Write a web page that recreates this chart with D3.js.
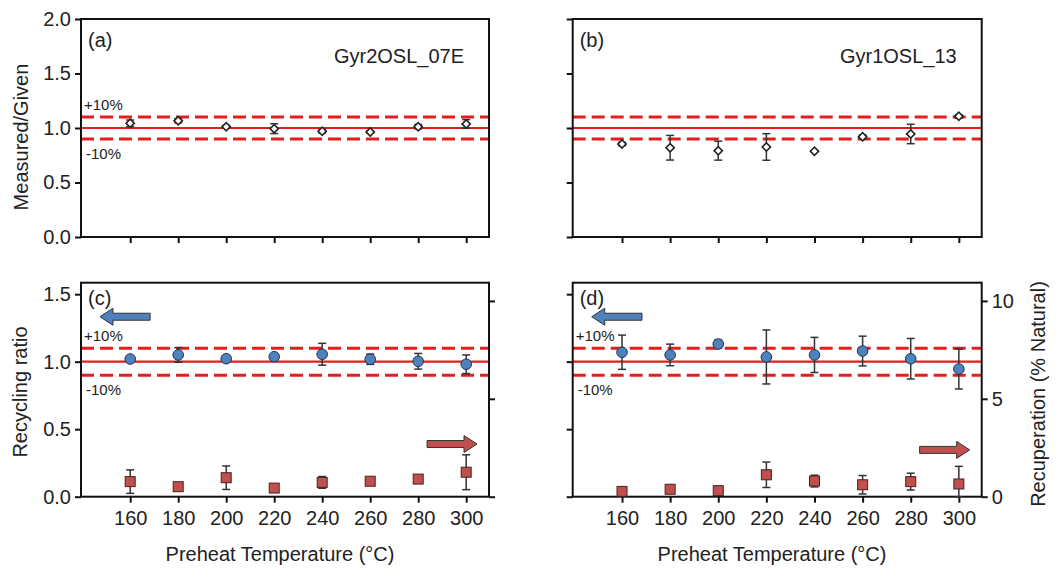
<!DOCTYPE html>
<html>
<head>
<meta charset="utf-8">
<script src="https://cdn.jsdelivr.net/npm/d3@7"></script>
<style>
  body { margin: 0; background: #fff; }
  text { font-family: "Liberation Sans", Arial, sans-serif; fill: #222; }
</style>
</head>
<body>
<div id="chart"></div>
<script>
// preheat temperatures (x categories)
const temps = [160, 180, 200, 220, 240, 260, 280, 300];

// (a) Gyr2OSL_07E measured/given
const ratioA    = [1.043, 1.067, 1.012, 0.994, 0.970, 0.963, 1.012, 1.037];
const ratioAErr = [0.030, 0.020, 0.012, 0.045, 0.015, 0.010, 0.020, 0.040];
// (b) Gyr1OSL_13 measured/given
const ratioB    = [0.853, 0.819, 0.792, 0.826, 0.786, 0.920, 0.945, 1.107];
const ratioBErr = [0.015, 0.113, 0.087, 0.122, 0.000, 0.015, 0.089, 0.015];

// (c) recycling ratio (left) and recuperation % (right)
const recycleC    = [1.020, 1.050, 1.022, 1.037, 1.055, 1.018, 1.003, 0.981];
const recycleCErr = [0.000, 0.054, 0.020, 0.000, 0.081, 0.038, 0.058, 0.069];
const recupC      = [0.77, 0.51, 0.97, 0.44, 0.73, 0.79, 0.90, 1.25];
const recupCErr   = [0.60, 0.12, 0.60, 0.00, 0.30, 0.00, 0.00, 0.89];

// (d)
const recycleD    = [1.070, 1.050, 1.131, 1.035, 1.050, 1.079, 1.022, 0.946];
const recycleDErr = [0.127, 0.080, 0.030, 0.200, 0.130, 0.110, 0.150, 0.148];
const recupD      = [0.27, 0.38, 0.31, 1.12, 0.80, 0.61, 0.77, 0.65];
const recupDErr   = [0.00, 0.12, 0.12, 0.65, 0.30, 0.47, 0.43, 0.90];

// tick labels
const ticksTop    = [0, 0.5, 1.0, 1.5, 2.0];
const ticksBottom = [0, 0.5, 1.0, 1.5];
const ticksRight  = [0, 5, 10];

const svg = d3.select('#chart').append('svg')
    .attr('width', 1060)
    .attr('height', 568);

const red = '#e41e1e', blue = '#4f81bd', brick = '#c0504d';
const xDomain = [139.5, 309.5];
const fs = 20;

function drawPanel(p) {
    const x = d3.scaleLinear().domain(xDomain).range([p.left, p.right]);
    const y = d3.scaleLinear().domain(p.yDomain).range([p.bottom, p.top]);
    const g = svg.append('g');

    // reference lines 1.0 and +-10%
    g.append('line')
        .attr('x1', p.left).attr('x2', p.right)
        .attr('y1', y(1)).attr('y2', y(1))
        .attr('stroke', red).attr('stroke-width', 2.2);
    [1.1, 0.9].forEach(v => {
        g.append('line')
            .attr('x1', p.left).attr('x2', p.right)
            .attr('y1', y(v)).attr('y2', y(v))
            .attr('stroke', red).attr('stroke-width', 3)
            .attr('stroke-dasharray', '13,6');
    });

    // frame
    g.append('rect')
        .attr('x', p.left).attr('y', p.top)
        .attr('width', p.right - p.left).attr('height', p.bottom - p.top)
        .attr('fill', 'none').attr('stroke', '#111').attr('stroke-width', 2);

    // left axis
    const yAxis = d3.axisLeft(y).tickValues(p.yTicks).tickSize(6).tickPadding(4)
        .tickFormat(p.yLabels ? d3.format('.1f') : '');
    const yAxisG = g.append('g').attr('transform', `translate(${p.left},0)`).call(yAxis);

    // bottom axis
    const xAxis = d3.axisBottom(x).tickValues(temps).tickSize(6).tickPadding(8)
        .tickFormat(p.xLabels ? d3.format('d') : '');
    const xAxisG = g.append('g').attr('transform', `translate(0,${p.bottom})`).call(xAxis);

    [yAxisG, xAxisG].forEach(a => {
        a.select('.domain').remove();
        a.selectAll('line').attr('stroke', '#111').attr('stroke-width', 2);
        a.selectAll('text').style('font-size', fs + 'px')
            .style('font-family', '"Liberation Sans", Arial, sans-serif').attr('fill', '#222');
    });
    xAxisG.selectAll('text').attr('dy', '0.73em');

    let y2 = null;
    if (p.y2Domain) {
        y2 = d3.scaleLinear().domain(p.y2Domain).range([p.bottom, p.top]);
        const rAxis = d3.axisRight(y2).tickValues(ticksRight).tickSize(6).tickPadding(4)
            .tickFormat(p.y2Labels ? d3.format('d') : '');
        const rG = g.append('g').attr('transform', `translate(${p.right},0)`).call(rAxis);
        rG.select('.domain').remove();
        rG.selectAll('line').attr('stroke', '#111').attr('stroke-width', 2);
        rG.selectAll('text').style('font-size', fs + 'px')
            .style('font-family', '"Liberation Sans", Arial, sans-serif').attr('fill', '#222');
    }

    // +-10% labels (not shown in panel b)
    if (p.pctLabels) {
        g.append('text').attr('x', p.left + 3).attr('y', y(1.1) - 7)
            .style('font-size', '15px').text('+10%');
        g.append('text').attr('x', p.left + 5).attr('y', y(0.9) + 20)
            .style('font-size', '15px').text('-10%');
    }

    // panel letter and sample name
    g.append('text').attr('x', p.left + 7).attr('y', p.top + p.letterDy)
        .style('font-size', fs + 'px').text(p.letter);
    if (p.name) {
        g.append('text').attr('x', p.right - 25).attr('y', p.top + 44)
            .attr('text-anchor', 'end').style('font-size', fs + 'px').text(p.name);
    }

    // error bars helper
    function errBars(vals, errs, scale) {
        temps.forEach((t, i) => {
            if (!errs[i]) return;
            const cx = x(t), y1 = scale(Math.max(0, vals[i] - errs[i])), y2v = scale(vals[i] + errs[i]);
            const eg = g.append('g').attr('stroke', '#333').attr('stroke-width', 1.5);
            eg.append('line').attr('x1', cx).attr('x2', cx).attr('y1', y1).attr('y2', y2v);
            eg.append('line').attr('x1', cx - 4).attr('x2', cx + 4).attr('y1', y1).attr('y2', y1);
            eg.append('line').attr('x1', cx - 4).attr('x2', cx + 4).attr('y1', y2v).attr('y2', y2v);
        });
    }

    if (p.diamonds) {
        errBars(p.diamonds, p.diamondErr, y);
        g.selectAll('.dia').data(temps).join('path')
            .attr('class', 'dia')
            .attr('d', d3.symbol(d3.symbolSquare, 34))
            .attr('transform', (d, i) => `translate(${x(d)},${y(p.diamonds[i])}) rotate(45)`)
            .attr('fill', '#fff').attr('stroke', '#222').attr('stroke-width', 1.6);
    }
    if (p.circles) {
        errBars(p.circles, p.circleErr, y);
        errBars(p.squares, p.squareErr, y2);
        g.selectAll('.sq').data(temps).join('rect')
            .attr('class', 'sq')
            .attr('x', d => x(d) - 5)
            .attr('y', (d, i) => y2(p.squares[i]) - 5)
            .attr('width', 10).attr('height', 10)
            .attr('fill', brick).attr('stroke', '#4a2020').attr('stroke-width', 1);
        g.selectAll('.ci').data(temps).join('circle')
            .attr('class', 'ci')
            .attr('cx', d => x(d))
            .attr('cy', (d, i) => y(p.circles[i]))
            .attr('r', 5.3)
            .attr('fill', blue).attr('stroke', '#1f3550').attr('stroke-width', 1);

        // direction arrows (block arrows)
        const arrow = (x0, x1, yc, dir, fill) => {
            const sh = 3.5, hh = 8.5, hl = 13;
            let pts;
            if (dir < 0) {
                pts = [[x0, yc], [x0 + hl, yc - hh], [x0 + hl, yc - sh], [x1, yc - sh],
                       [x1, yc + sh], [x0 + hl, yc + sh], [x0 + hl, yc + hh]];
            } else {
                pts = [[x1, yc], [x1 - hl, yc - hh], [x1 - hl, yc - sh], [x0, yc - sh],
                       [x0, yc + sh], [x1 - hl, yc + sh], [x1 - hl, yc + hh]];
            }
            g.append('path').attr('d', d3.line()(pts) + 'Z')
                .attr('fill', fill).attr('stroke', '#333').attr('stroke-width', 1);
        };
        arrow(x(147.4), x(168.3), y(1.333), -1, blue);
        arrow(x(283.7), x(304.5), y2(p.redArrowY), 1, brick);
    }
}

const rowTop = { top: 19, bottom: 237, yDomain: [0, 2], yTicks: ticksTop };
const rowBot = { top: 282.7, bottom: 496.7, yDomain: [0, 1.585], yTicks: ticksBottom, y2Domain: [0, 10.93] };
const colL = { left: 81, right: 489 };
const colR = { left: 572.7, right: 981.7 };

drawPanel(Object.assign({}, rowTop, colL, {
    letter: '(a)', letterDy: 28, name: 'Gyr2OSL_07E', yLabels: true, xLabels: false, pctLabels: true,
    diamonds: ratioA, diamondErr: ratioAErr
}));
drawPanel(Object.assign({}, rowTop, colR, {
    letter: '(b)', letterDy: 28, name: 'Gyr1OSL_13', yLabels: false, xLabels: false, pctLabels: false,
    diamonds: ratioB, diamondErr: ratioBErr
}));
drawPanel(Object.assign({}, rowBot, colL, {
    letter: '(c)', letterDy: 22, yLabels: true, xLabels: true, y2Labels: false, pctLabels: true,
    circles: recycleC, circleErr: recycleCErr, squares: recupC, squareErr: recupCErr, redArrowY: 2.69
}));
drawPanel(Object.assign({}, rowBot, colR, {
    letter: '(d)', letterDy: 22, yLabels: false, xLabels: true, y2Labels: true, pctLabels: true,
    circles: recycleD, circleErr: recycleDErr, squares: recupD, squareErr: recupDErr, redArrowY: 2.39
}));

// axis titles
svg.append('text').attr('transform', 'translate(28,137) rotate(-90)')
    .attr('text-anchor', 'middle').style('font-size', fs + 'px').text('Measured/Given');
svg.append('text').attr('transform', 'translate(27,392) rotate(-90)')
    .attr('text-anchor', 'middle').style('font-size', fs + 'px').text('Recycling ratio');
svg.append('text').attr('transform', 'translate(1045,394) rotate(-90)')
    .attr('text-anchor', 'middle').style('font-size', fs + 'px').text('Recuperation (% Natural)');
[280, 772].forEach(cx => {
    svg.append('text').attr('x', cx).attr('y', 561)
        .attr('text-anchor', 'middle').style('font-size', fs + 'px')
        .text('Preheat Temperature (°C)');
});
</script>
</body>
</html>
